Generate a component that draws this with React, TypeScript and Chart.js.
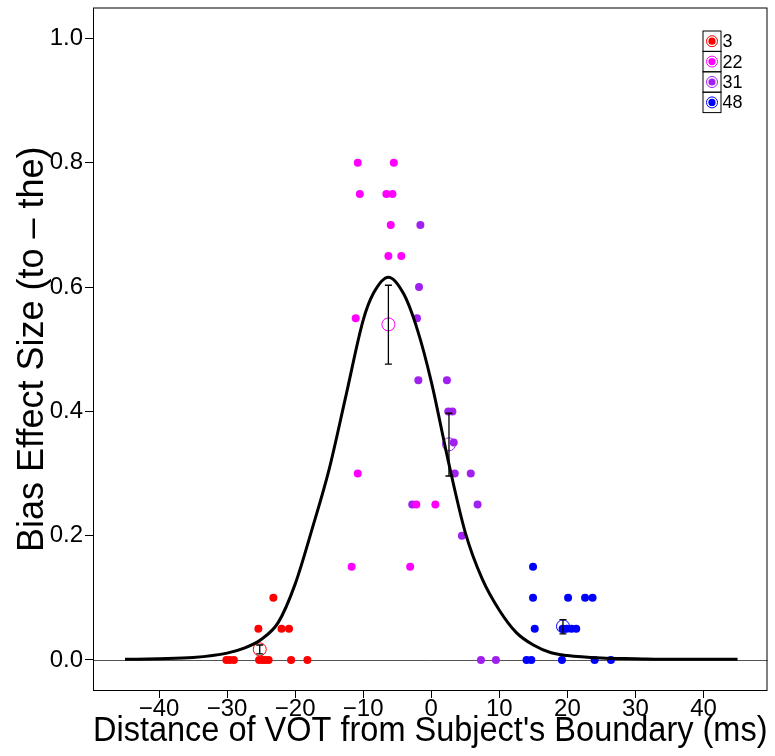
import React, { useEffect, useRef } from "react";
import { Chart, registerables } from "chart.js";

Chart.register(...registerables);

const FONT = "'Liberation Sans', Arial, Helvetica, sans-serif";

// ---- data ----
const subjects = ["3", "22", "31", "48"];
const subjectColors = ["#FF0000", "#FF00FF", "#A020F0", "#0000FF"];

const s3X = [-30.1, -29.6, -29.0, -25.3, -24.8, -24.4, -23.9, -20.6, -18.2, -25.4, -22.0, -20.9, -23.2];
const s3Y = [0, 0, 0, 0, 0, 0, 0, 0, 0, 0.05, 0.05, 0.05, 0.1];

const s22X = [-10.8, -5.5, -10.5, -6.6, -5.7, -5.95, -6.3, -4.4, -11.1, -10.8, -2.2, 0.6, -11.7, -3.1];
const s22Y = [0.8, 0.8, 0.75, 0.75, 0.75, 0.7, 0.65, 0.65, 0.55, 0.3, 0.25, 0.25, 0.15, 0.15];

const s31X = [-1.6, -1.8, -2.1, -1.9, 2.3, 2.5, 3.1, 3.3, 3.45, 5.8, -2.8, 6.8, 4.5, 7.3, 9.5];
const s31Y = [0.7, 0.6, 0.55, 0.45, 0.45, 0.4, 0.4, 0.35, 0.3, 0.3, 0.25, 0.25, 0.2, 0, 0];

const s48X = [14.95, 14.95, 20.1, 22.6, 23.7, 15.2, 19.3, 19.9, 20.6, 21.3, 14.0, 14.7, 19.2, 24.0, 26.4];
const s48Y = [0.15, 0.1, 0.1, 0.1, 0.1, 0.05, 0.05, 0.05, 0.05, 0.05, 0, 0, 0, 0, 0];

// subject means and error bar limits
const meanX = [-25.2, -6.3, 2.6, 19.35];
const meanY = [0.017, 0.54, 0.347, 0.054];
const meanLo = [0.0096, 0.476, 0.296, 0.042];
const meanHi = [0.024, 0.603, 0.397, 0.065];

// fitted curve
const curveX = [-45, -40, -35, -30, -27.5, -25, -22.5, -20, -17.5, -15, -12.5, -10, -8.5, -6.3, -4, -2, 0, 2.5, 5, 7.5, 10, 12.5, 15, 17.5, 20, 25, 30, 35, 40, 45];
const curveY = [0.001, 0.002, 0.004, 0.011, 0.019, 0.033, 0.06, 0.122, 0.211, 0.307, 0.427, 0.547, 0.59, 0.616, 0.588, 0.53, 0.448, 0.32, 0.205, 0.13, 0.08, 0.044, 0.024, 0.012, 0.007, 0.003, 0.002, 0.001, 0.001, 0.001];

const xTicks = [-40, -30, -20, -10, 0, 10, 20, 30, 40];
const yTicks = [0, 0.2, 0.4, 0.6, 0.8, 1.0];
const REF_LINE_Y = 0;

const pts = (xs: number[], ys: number[]) => xs.map((x, i) => ({ x, y: ys[i] }));

const groupXs = [s3X, s22X, s31X, s48X];
const groupYs = [s3Y, s22Y, s31Y, s48Y];

const refLinePlugin = {
  id: "refLine",
  beforeDatasetsDraw(chart: any) {
    const { ctx, chartArea, scales } = chart;
    const y = Math.round(scales.y.getPixelForValue(REF_LINE_Y)) + 0.5;
    ctx.save();
    ctx.strokeStyle = "#555555";
    ctx.lineWidth = 1;
    ctx.beginPath();
    ctx.moveTo(chartArea.left, y);
    ctx.lineTo(chartArea.right, y);
    ctx.stroke();
    ctx.restore();
  },
};

const errorBarPlugin = {
  id: "errorBars",
  afterDatasetsDraw(chart: any) {
    const { ctx, scales } = chart;
    ctx.save();
    ctx.strokeStyle = "#000";
    ctx.lineWidth = 1.3;
    meanX.forEach((mx, i) => {
      const x = scales.x.getPixelForValue(mx);
      const y1 = scales.y.getPixelForValue(meanLo[i]);
      const y2 = scales.y.getPixelForValue(meanHi[i]);
      ctx.beginPath();
      ctx.moveTo(x, y1);
      ctx.lineTo(x, y2);
      ctx.moveTo(x - 3.5, y1);
      ctx.lineTo(x + 3.5, y1);
      ctx.moveTo(x - 3.5, y2);
      ctx.lineTo(x + 3.5, y2);
      ctx.stroke();
    });
    ctx.restore();
  },
};

const framePlugin = {
  id: "frame",
  afterDraw(chart: any) {
    const { ctx, chartArea } = chart;
    ctx.save();
    ctx.strokeStyle = "#000";
    ctx.lineWidth = 1;
    ctx.strokeRect(chartArea.left + 0.5, chartArea.top + 0.5, chartArea.right - chartArea.left - 1, chartArea.bottom - chartArea.top - 1);
    ctx.restore();
  },
};

const legendPlugin = {
  id: "boxLegend",
  afterDraw(chart: any) {
    const { ctx, chartArea } = chart;
    const w = 18;
    const h = 20.4;
    const x0 = chartArea.right - 65;
    const y0 = chartArea.top + 23;
    ctx.save();
    subjects.forEach((label, i) => {
      const top = y0 + i * h;
      ctx.strokeStyle = "#000";
      ctx.lineWidth = 1;
      ctx.strokeRect(x0 + 0.5, top + 0.5, w, h);
      const cx = x0 + w / 2 + 0.5;
      const cy = top + h / 2 + 0.5;
      ctx.beginPath();
      ctx.arc(cx, cy, 5.5, 0, Math.PI * 2);
      ctx.strokeStyle = subjectColors[i];
      ctx.stroke();
      ctx.beginPath();
      ctx.arc(cx, cy, 3.6, 0, Math.PI * 2);
      ctx.fillStyle = subjectColors[i];
      ctx.fill();
      ctx.fillStyle = "#000";
      ctx.font = `18px ${FONT}`;
      ctx.textBaseline = "middle";
      ctx.textAlign = "left";
      ctx.fillText(label, x0 + w + 2, cy + 1);
    });
    ctx.restore();
  },
};

export default function App() {
  const ref = useRef<HTMLCanvasElement | null>(null);

  useEffect(() => {
    if (!ref.current) return;
    const datasets: any[] = [
      {
        type: "line",
        label: "fit",
        data: pts(curveX, curveY),
        borderColor: "#000",
        borderWidth: 3,
        pointRadius: 0,
        showLine: true,
        fill: false,
        cubicInterpolationMode: "monotone",
      },
    ];
    subjects.forEach((s, i) => {
      datasets.push({
        label: s,
        data: pts(groupXs[i], groupYs[i]),
        backgroundColor: subjectColors[i],
        borderWidth: 0,
        pointRadius: 4,
        pointHoverRadius: 4,
      });
    });
    subjects.forEach((s, i) => {
      datasets.push({
        label: s + " mean",
        data: [{ x: meanX[i], y: meanY[i] }],
        backgroundColor: "rgba(0,0,0,0)",
        borderColor: subjectColors[i],
        borderWidth: 1,
        pointRadius: 6.5,
        pointHoverRadius: 6.5,
      });
    });

    const chart = new Chart(ref.current, {
      type: "scatter",
      data: { datasets },
      options: {
        animation: false,
        responsive: false,
        devicePixelRatio: 1,
        layout: { padding: { top: 7, right: 7, left: 0, bottom: 0 } },
        plugins: { legend: { display: false }, tooltip: { enabled: false } },
        scales: {
          x: {
            type: "linear",
            min: -49.7,
            max: 49.4,
            afterBuildTicks: (scale: any) => {
              scale.ticks = xTicks.map((v) => ({ value: v }));
            },
            afterFit: (scale: any) => {
              scale.height = 65;
              scale.paddingLeft = 0;
              scale.paddingRight = 0;
            },
            border: { display: false },
            grid: { drawOnChartArea: false, drawTicks: true, tickLength: 7, tickColor: "#000", color: "#000" },
            ticks: {
              color: "#000",
              font: { family: FONT, size: 24 },
              padding: -3,
              maxRotation: 0,
              autoSkip: false,
              callback: (v: any) => (v < 0 ? "\u2212" + Math.abs(v) : String(v)),
            },
            title: {
              display: true,
              text: "Distance of VOT from Subject's Boundary (ms)",
              color: "#000",
              font: { family: FONT, size: 35 },
              padding: { top: 0, bottom: 4 },
            },
          },
          y: {
            type: "linear",
            min: -0.05,
            max: 1.05,
            afterBuildTicks: (scale: any) => {
              scale.ticks = yTicks.map((v) => ({ value: v }));
            },
            afterFit: (scale: any) => {
              scale.width = 93;
              scale.paddingTop = 0;
              scale.paddingBottom = 0;
            },
            border: { display: false },
            grid: { drawOnChartArea: false, drawTicks: true, tickLength: 8, tickColor: "#000", color: "#000" },
            ticks: {
              color: "#000",
              font: { family: FONT, size: 24 },
              padding: 2,
              callback: (v: any) => Number(v).toFixed(1),
            },
            title: {
              display: true,
              text: "Bias Effect Size (to \u2013 the)",
              color: "#000",
              font: { family: FONT, size: 36 },
              padding: { top: 11, bottom: 0 },
            },
          },
        },
      },
      plugins: [refLinePlugin, errorBarPlugin, framePlugin, legendPlugin],
    } as any);
    return () => chart.destroy();
  }, []);

  return (
    <div style={{ position: "absolute", left: 0, top: 0, width: 775, height: 756, background: "#fff" }}>
      <canvas ref={ref} width={775} height={756} style={{ display: "block" }} />
    </div>
  );
}
